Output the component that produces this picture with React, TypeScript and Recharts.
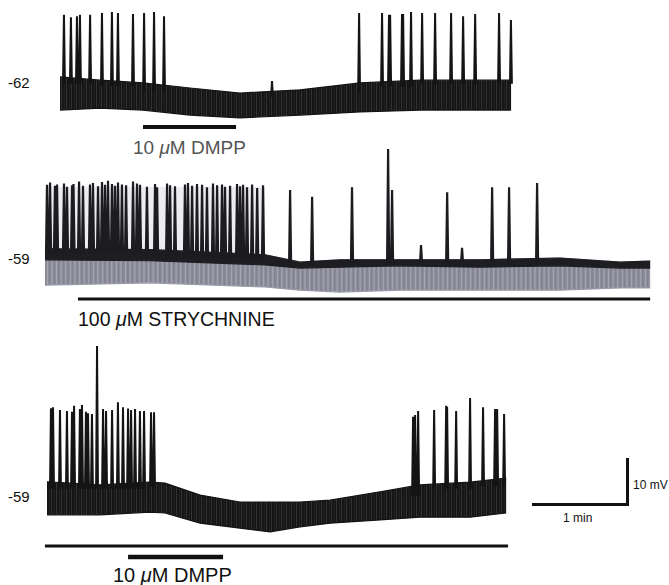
import React from "react";
import { ComposedChart, Area, Line, XAxis, YAxis, ReferenceLine } from "recharts";

// calibration taken from the scale bar: 1 min and 10 mV
const PX_PER_S = 95 / 60;
const PX_PER_MV = 46 / 10;
const W = 669;
const H = 585;
const FONT = "'Liberation Sans', Arial, Helvetica, sans-serif";

// ---- trace 1 : control, 10 uM DMPP (resting -62 mV) ----
const topBandT = [0, 25.3, 52.4, 82.1, 113.7, 151.6, 189.5, 227.4, 284.9];
const topBandHi = [-60.9, -61.6, -62.2, -63.3, -64.4, -63.7, -62.2, -61.6, -61.6];
const topBandLo = [-68.1, -67.7, -68.1, -69.2, -69.8, -69.2, -68.5, -68.1, -68.1];
const topSpikeT = [
  2.5, 6.9, 10.7, 12.6, 19.0, 26.5, 32.8, 36.6, 46.1, 53.1, 59.4, 65.7, 133.9,
  188.9, 203.4, 207.8, 208.5, 216.0, 216.7, 221.7, 228.7, 236.9, 247.0, 254.6, 262.2, 277.3, 284.8,
];
const topSpikePeak = [
  -47.4, -47.9, -47.7, -47.4, -47.4, -47.0, -46.8, -47.0, -47.2, -47.0, -46.8, -47.7, -61.8,
  -47.0, -47.0, -47.4, -47.4, -47.2, -47.2, -46.8, -47.0, -47.0, -47.0, -47.7, -47.2, -47.0, -48.5,
];
const topDmpp = [52.4, 111.2];

// ---- trace 2 : 100 uM strychnine (resting -59 mV) ----
const midBandT = [0, 66.3, 139.0, 161.0, 186.4, 224.3, 274.8, 325.3, 363.2, 382.2];
const midDarkHi = [-57.0, -57.2, -58.3, -59.9, -59.4, -59.4, -59.4, -59.0, -59.9, -59.7];
const midDarkLo = [-59.4, -59.6, -60.5, -61.2, -61.0, -60.7, -61.0, -60.7, -61.2, -61.2];
const midGrayLo = [-64.9, -64.4, -65.3, -66.0, -66.4, -66.0, -66.0, -66.0, -65.5, -65.5];
// faint haze above the baseline while the cell fires densely
const midHazeT = [0, 66.3, 139.0];
const midHazeHi = [-43.5, -43.5, -43.5];
const midSpikeT = [
  1.3, 3.2, 6.3, 7.6, 12.0, 13.9, 17.1, 18.0, 21.5, 24.0,
  28.4, 30.3, 33.5, 36.0, 37.9, 39.8, 42.3, 44.2, 46.1, 48.6,
  51.2, 55.6, 58.1, 60.0, 64.4, 69.5, 70.8, 77.1, 79.0, 82.1,
  88.4, 90.3, 92.9, 96.0, 99.2, 102.3, 106.1, 108.7, 111.8, 113.7,
  116.9, 121.3, 123.2, 125.1, 127.6, 130.8, 134.0, 137.7,
  154.8, 168.7, 193.9, 216.7, 219.2, 237.5, 254.0, 263.4, 282.4, 293.1, 310.8,
];
const midSpikePeak = [
  -43.1, -42.6, -43.3, -43.0, -42.8, -43.5, -43.2, -42.9, -42.4, -43.3,
  -43.0, -42.7, -43.4, -42.5, -43.1, -42.2, -42.9, -43.3, -42.6, -43.0,
  -43.2, -42.4, -42.8, -43.1, -43.5, -42.9, -43.6, -42.8, -43.2, -43.4,
  -43.0, -42.7, -43.3, -42.9, -43.1, -43.6, -42.8, -43.2, -43.0, -43.5,
  -43.3, -42.9, -43.4, -43.1, -43.6, -43.0, -43.8, -43.2,
  -44.2, -45.7, -43.6, -35.3, -44.2, -56.2, -44.7, -56.8, -43.6, -43.6, -42.7,
];
const midStrych = [20.8, 382.2];

// ---- trace 3 : strychnine + 10 uM DMPP (resting -59 mV) ----
const botBandT = [0, 33.5, 65.1, 74.5, 96.7, 121.9, 140.9, 159.8, 178.8, 210.4, 235.6, 267.2, 290.0];
const botBandHi = [-55.9, -56.6, -56.0, -56.2, -58.8, -60.3, -60.3, -60.3, -59.9, -58.1, -56.6, -56.0, -55.1];
const botBandLo = [-63.1, -63.1, -62.5, -62.7, -64.9, -66.0, -66.8, -65.7, -64.9, -64.2, -63.6, -63.6, -62.7];
const botSpikeT = [
  2.5, 3.8, 8.2, 12.6, 15.8, 17.1, 20.8, 22.1, 24.6, 25.9, 28.4, 31.6,
  35.4, 37.3, 41.1, 44.8, 48.0, 51.2, 53.1, 55.6, 58.7, 61.3, 65.7, 67.6,
  231.2, 232.5, 234.4, 244.5, 252.1, 252.7, 258.4, 267.2, 275.4, 283.0, 284.3, 288.7,
];
const botSpikePeak = [
  -39.9, -39.7, -40.3, -40.5, -40.7, -39.4, -40.1, -39.2, -40.7, -41.0, -41.2, -26.4,
  -40.1, -40.5, -40.3, -38.6, -39.7, -40.0, -40.3, -40.1, -40.5, -40.5, -40.8, -40.8,
  -41.8, -41.4, -40.5, -40.3, -39.4, -39.6, -40.5, -37.7, -39.7, -40.1, -40.1, -41.2,
];
const botStrych = [-1.3, 291.2];
const botDmpp = [51.2, 111.2];

type Layout = { x0: number; top: number; height: number; refMv: number; refY: number };

const topLayout: Layout = { x0: 60, top: 4, height: 134, refMv: -62, refY: 82 };
const midLayout: Layout = { x0: 45, top: 140, height: 166, refMv: -59, refY: 258 };
const botLayout: Layout = { x0: 47, top: 336, height: 228, refMv: -59, refY: 496 };

const pxToMv = (l: Layout, py: number) => l.refMv - (py - l.refY) / PX_PER_MV;

const bandData = (t: number[], lo: number[], hi: number[]) =>
  t.map((x, i) => ({ t: x, v: [lo[i], hi[i]] }));

// each spike is a narrow up/down stroke whose foot sits just inside the band
const spikeData = (t: number[], peak: number[], bandT: number[], bandHi: number[], half: number) => {
  const out: { t: number; v: number | null }[] = [];
  t.forEach((x, i) => {
    let j = 0;
    while (j < bandT.length - 2 && bandT[j + 1] < x) j++;
    const foot = Math.min(bandHi[j], bandHi[j + 1]) - 0.8;
    out.push({ t: x - half, v: foot }, { t: x, v: peak[i] }, { t: x + half, v: foot }, { t: x + half + 0.01, v: null });
  });
  return out;
};

type Band = { data: { t: number; v: number[] }[]; fill: string; edge: string };
type Bar = { span: number[]; y: number; w: number };

function Trace({ id, layout, bands, spikes, spikeColor, spikeWidth, bars }: {
  id: string; layout: Layout; bands: Band[]; spikes: { t: number; v: number | null }[];
  spikeColor: string; spikeWidth: number; bars: Bar[];
}) {
  const xDom: [number, number] = [-layout.x0 / PX_PER_S, (W - layout.x0) / PX_PER_S];
  const yDom: [number, number] = [
    layout.refMv - (layout.top + layout.height - layout.refY) / PX_PER_MV,
    layout.refMv + (layout.refY - layout.top) / PX_PER_MV,
  ];
  return (
    <div style={{ position: "absolute", left: 0, top: layout.top }}>
      <ComposedChart width={W} height={layout.height} margin={{ top: 0, right: 0, bottom: 0, left: 0 }}>
        <defs>
          {/* chart-recorder look: dense vertical strokes with pale gaps */}
          <pattern id={`${id}-ink`} width="5" height="40" patternUnits="userSpaceOnUse">
            <rect width="5" height="40" fill="#141414" />
            <rect x="1.4" y="0" width="0.6" height="40" fill="#fff" opacity="0.22" />
            <rect x="3.9" y="0" width="0.5" height="40" fill="#fff" opacity="0.12" />
          </pattern>
          <pattern id={`${id}-gray`} width="4.6" height="40" patternUnits="userSpaceOnUse">
            <rect width="4.6" height="40" fill="#8d8e9c" />
            <rect x="1.2" y="0" width="0.7" height="40" fill="#d6d6de" opacity="0.5" />
            <rect x="3.3" y="0" width="0.6" height="40" fill="#3a3a44" opacity="0.35" />
          </pattern>
        </defs>
        <XAxis type="number" dataKey="t" domain={xDom} hide allowDataOverflow />
        <YAxis type="number" domain={yDom} hide allowDataOverflow />
        {bands.map((b, i) => (
          <Area key={i} data={b.data} dataKey="v" type="linear"
            fill={b.fill.startsWith("#") ? b.fill : `url(#${id}-${b.fill})`} fillOpacity={1}
            stroke={b.edge} strokeWidth={1.2} dot={false} activeDot={false} isAnimationActive={false} />
        ))}
        <Line data={spikes} dataKey="v" type="linear" stroke={spikeColor} strokeWidth={spikeWidth}
          dot={false} activeDot={false} connectNulls={false} isAnimationActive={false} />
        {bars.map((b, i) => (
          <ReferenceLine key={i} ifOverflow="visible" stroke="#111" strokeWidth={b.w}
            segment={[{ x: b.span[0], y: pxToMv(layout, b.y) }, { x: b.span[1], y: pxToMv(layout, b.y) }]} />
        ))}
      </ComposedChart>
    </div>
  );
}

const Label = ({ x, cy, size, color = "#111", children }: any) => (
  <div style={{ position: "absolute", left: x, top: cy - size * 0.49, fontSize: size, lineHeight: 1,
    color, fontFamily: FONT, whiteSpace: "nowrap" }}>
    {children}
  </div>
);

const Mu = () => <span style={{ fontStyle: "italic" }}>μ</span>;

export default function App() {
  return (
    <div style={{ position: "absolute", left: 0, top: 0, width: W, height: H, background: "#fff", overflow: "hidden" }}>
      <Trace
        id="t1"
        layout={topLayout}
        bands={[{ data: bandData(topBandT, topBandLo, topBandHi), fill: "ink", edge: "#141414" }]}
        spikes={spikeData(topSpikeT, topSpikePeak, topBandT, topBandHi, 0.6)}
        spikeColor="#141414" spikeWidth={2}
        bars={[{ span: topDmpp, y: 127, w: 4 }]}
      />
      <Trace
        id="t2"
        layout={midLayout}
        bands={[
          { data: bandData(midHazeT, midDarkHi.slice(0, 3), midHazeHi), fill: "#ededf1", edge: "none" },
          { data: bandData(midBandT, midGrayLo, midDarkHi), fill: "gray", edge: "#9a9ba8" },
          { data: bandData(midBandT, midDarkLo, midDarkHi), fill: "#1e1e22", edge: "#1e1e22" },
        ]}
        spikes={spikeData(midSpikeT, midSpikePeak, midBandT, midDarkHi, 0.65)}
        spikeColor="#1c1c20" spikeWidth={2.2}
        bars={[{ span: midStrych, y: 299, w: 3 }]}
      />
      <Trace
        id="t3"
        layout={botLayout}
        bands={[{ data: bandData(botBandT, botBandLo, botBandHi), fill: "ink", edge: "#141414" }]}
        spikes={spikeData(botSpikeT, botSpikePeak, botBandT, botBandHi, 0.6)}
        spikeColor="#141414" spikeWidth={2}
        bars={[{ span: botStrych, y: 546, w: 3 }, { span: botDmpp, y: 557, w: 4.5 }]}
      />

      <Label x={8} cy={82} size={15}>-62</Label>
      <Label x={133} cy={147} size={19} color="#555">10 <Mu />M DMPP</Label>
      <Label x={8} cy={258} size={15}>-59</Label>
      <Label x={78} cy={320} size={19.5}>100 <Mu />M STRYCHNINE</Label>
      <Label x={8} cy={496} size={15}>-59</Label>
      <Label x={113} cy={575} size={20}>10 <Mu />M DMPP</Label>

      {/* scale bar */}
      <div style={{ position: "absolute", left: 626, top: 458, width: 3, height: 47, background: "#111" }} />
      <div style={{ position: "absolute", left: 532, top: 503, width: 97, height: 3, background: "#111" }} />
      <Label x={633} cy={485} size={12}>10 mV</Label>
      <Label x={563} cy={518} size={12}>1 min</Label>
    </div>
  );
}
